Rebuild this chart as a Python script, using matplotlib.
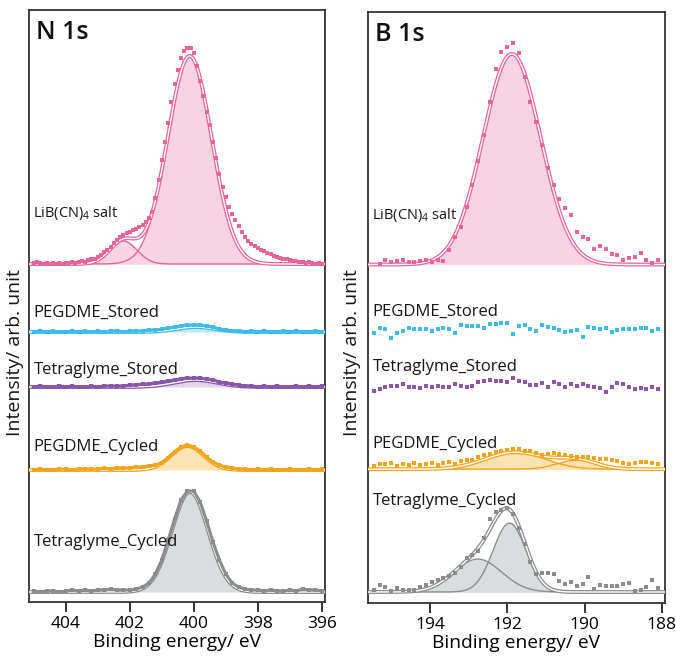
import numpy as np
import matplotlib.pyplot as plt

plt.rcParams['font.family'] = ['Open Sans', 'DejaVu Sans']
plt.rcParams['mathtext.fontset'] = 'custom'
plt.rcParams['mathtext.rm'] = 'Open Sans'

# ---- N 1s (salt at 0.1 eV steps, electrodes at 0.2 eV steps) ----
n_energy_salt = np.linspace(405.0, 396.0, 91)
n_energy = np.linspace(405.0, 396.0, 46)

n_salt = [1, 2, 1, 0, 1, 0, 1, 0, 1, 0,
          1, 1, 2, 1, 2, 3, 2, 4, 5, 5,
          7, 9, 12, 14, 17, 21, 24, 27, 29, 31,
          32, 34, 35, 37, 39, 42, 46, 52, 66, 84,
          104, 122, 141, 162, 180, 194, 206, 213, 216, 216,
          211, 198, 183, 168, 152, 139, 122, 106, 90, 77,
          67, 57, 50, 44, 38, 32, 27, 23, 20, 18,
          16, 14, 13, 11, 10, 8, 7, 6, 5, 5,
          4, 3, 3, 2, 2, 1, 2, 1, 0, 1,
          0]
n_peg_stored = [0, 1, 0, 1, 0, 0, 1, 0, 1, 0, 1, 0, 1, 1, 0,
                1, 1, 1, 2, 2, 3, 4, 5, 6, 7, 7, 7, 6, 5, 3, 2, 1,
                1, 0, 1, 0, 1, 0, 0, 1, 0, 1, 0, 0, 1, 0]
n_tetra_stored = [0, 1, 0, 0, 1, 0, 1, 0, 0, 1, 0, 1, 1, 1, 1,
                  2, 2, 3, 3, 4, 5, 6, 7, 8, 9, 9, 9, 8, 7, 5, 4, 3,
                  2, 1, 1, 0, 1, 0, 1, 0, 0, 1, 0, 1, 0, 1]
n_peg_cycled = [0, 1, 0, 0, 1, 1, 0, 1, 1, 1, 1, 2, 1, 2, 2,
                2, 3, 3, 4, 5, 7, 12, 18, 23, 25, 23, 19, 13, 8, 5, 3, 2,
                1, 1, 0, 1, 0, 1, 0, 0, 1, 0, 0, 1, 0, 1]
n_tetra_cycled = [1, 0, 1, 1, 0, 1, 2, 1, 2, 1, 2, 2, 3, 2, 2,
                  2, 3, 5, 9, 18, 32, 52, 73, 92, 101, 101, 90, 71, 50, 32, 18, 9,
                  5, 3, 2, 2, 1, 2, 1, 1, 2, 1, 3, 2, 2, 1]

# fitted components: (centre eV, FWHM eV, height)
n_fits = [
    [(400.13, 1.62, 208), (402.2, 1.0, 23)],
    [(399.95, 1.4, 5)],
    [(399.95, 1.6, 7)],
    [(400.2, 1.2, 24)],
    [(400.12, 1.35, 100)],
]
n_offsets = [338, 270, 215, 132, 10]

# ---- B 1s ----
b_energy_salt = np.linspace(195.3, 188.1, 49)
b_energy = np.linspace(195.45, 188.1, 50)

b_salt = [1, 5, 3, 4, 5, 3, 3, 4, 5, 3,
          5, 4, 15, 28, 38, 58, 80, 104, 130, 163,
          196, 213, 218, 222, 212, 188, 163, 143, 120, 97,
          80, 66, 57, 50, 33, 28, 26, 16, 19, 16,
          11, 10, 5, 7, 8, 12, 5, 2, 5]
b_peg_stored = [-2, 3, 2, -7, -2, 0, 3, 2, 2, 2, 0, 2, 3, 2, -2, 6, 5, 5, 5, 3,
                7, 7, 8, 8, -3, 5, 6, 2, 0, 6, 4, 3, 1, -1, 0, 1, -6, 4, 3, 2,
                3, -1, 1, 2, 2, 2, 3, 3, 0, 2]
b_tetra_stored = [-3, -1, 1, 2, 2, 4, 1, 1, 0, 2, 1, 2, 1, 1, 4, 2, 1, 2, 6, 7,
                  8, 7, 7, 6, 10, 7, 6, 3, 3, 5, 1, 6, 4, 1, 4, 2, 4, 2, 1, 0,
                  -4, 1, 5, 4, 1, -1, 0, -1, 1, -1]
b_peg_cycled = [3, 5, 5, 6, 3, 5, 4, 6, 4, 5, 6, 4, 6, 7, 5, 8, 9, 9, 12, 14,
                15, 17, 18, 19, 20, 20, 18, 18, 16, 14, 15, 16, 15, 14, 13, 12, 12, 12, 11, 10,
                10, 9, 8, 6, 5, 6, 7, 7, 6, 5]
b_tetra_cycled = [2, 7, 5, 1, 4, 2, 2, 2, 5, 7, 10, 12, 14, 16, 19, 25, 34, 37, 41, 54,
                  73, 80, 82, 84, 78, 64, 48, 30, 18, 19, 19, 18, 11, 8, 10, 6, 8, 15, 3, 7,
                  6, 6, 6, 8, 9, 1, 2, 5, 12, 4]

b_fits = [
    [(191.88, 1.75, 211)],
    [],
    [],
    [(191.8, 1.8, 17), (190.2, 1.2, 9)],
    [(191.94, 1.0, 69), (192.76, 1.45, 33)],
]
b_offsets = [339, 272, 215, 134, 11]

labels = ['LiB(CN)$_4$ salt', 'PEGDME_Stored', 'Tetraglyme_Stored',
          'PEGDME_Cycled', 'Tetraglyme_Cycled']
label_sizes = [10.5, 12, 12, 12, 12]
n_label_y = [389, 289, 232, 155, 60]
b_label_y = [389, 292, 236, 159, 102]

colors = ['#e8649a', '#3dbde6', '#8a56a8', '#f5a31a', '#8c8c8c']
fills = ['#f8d4e2', '#bfe9f7', '#e3d3ec', '#fde2b3', '#d9dddd']


def gauss(x, c, w, h):
    return h * np.exp(-4 * np.log(2) * (x - c) ** 2 / w ** 2)


def draw_panel(ax, xs_list, ys_list, fits, offsets, label_y, xlim, title,
               dense):
    grid = np.linspace(xlim[0], xlim[1], 600)
    for i in range(5):
        col, fc, off = colors[i], fills[i], offsets[i]
        xs = np.asarray(xs_list[i])
        ys = np.asarray(ys_list[i]) + off
        if fits[i]:
            total = np.zeros_like(grid)
            for c, w, h in fits[i]:
                comp = gauss(grid, c, w, h)
                total += comp
                ax.fill_between(grid, off, off + comp, color=fc, lw=0, zorder=2)
                ax.plot(grid, off + comp, color=col, lw=1.0, zorder=3)
            ax.plot(grid, off + total, color=col, lw=2.8, zorder=4)
            ax.plot(grid, off + total, color='white', lw=1.0, zorder=5)
        if dense and i > 0:
            ax.plot(xs, ys, color=col, lw=2.2, marker='s', ms=2.8, mew=0,
                    zorder=6)
        else:
            ax.plot(xs, ys, ls='none', color=col, marker='s', ms=3.4, mew=0,
                    zorder=6)
        ax.text(0.015, label_y[i], labels[i],
                transform=ax.get_yaxis_transform(), fontsize=label_sizes[i],
                va='center', ha='left', color='#161616', zorder=7)
    ax.text(0.025, 0.962, title, transform=ax.transAxes, fontsize=18,
            fontweight='semibold', va='center', ha='left', color='#111111')
    ax.set_xlim(*xlim)
    ax.set_ylim(0, 592)
    ax.set_yticks([])
    ax.set_xlabel('Binding energy/ eV', fontsize=13.8, labelpad=1)
    ax.tick_params(axis='x', direction='out', length=7, width=1.1,
                   labelsize=12.5, pad=3)
    for s in ax.spines.values():
        s.set_linewidth(1.3)
        s.set_color('#333333')


fig = plt.figure(figsize=(6.76, 6.56), dpi=100)
ax1 = fig.add_axes([0.0429, 0.0823, 0.4379, 0.9024])
ax2 = fig.add_axes([0.5444, 0.0808, 0.4393, 0.9009])

draw_panel(ax1,
           [n_energy_salt, n_energy, n_energy, n_energy, n_energy],
           [n_salt, n_peg_stored, n_tetra_stored, n_peg_cycled, n_tetra_cycled],
           n_fits, n_offsets, n_label_y, (405.15, 395.9), 'N 1s', True)
ax1.set_xticks([404, 402, 400, 398, 396])

draw_panel(ax2,
           [b_energy_salt, b_energy, b_energy, b_energy, b_energy],
           [b_salt, b_peg_stored, b_tetra_stored, b_peg_cycled, b_tetra_cycled],
           b_fits, b_offsets, b_label_y, (195.6, 187.92), 'B 1s', False)
ax2.set_xticks([194, 192, 190, 188])

for xf in (15 / 676, 352 / 676):
    fig.text(xf, 1 - 353 / 656, 'Intensity/ arb. unit', rotation=90,
             fontsize=14, va='center', ha='center', color='#161616')

fig.savefig('out.png', dpi=100)
